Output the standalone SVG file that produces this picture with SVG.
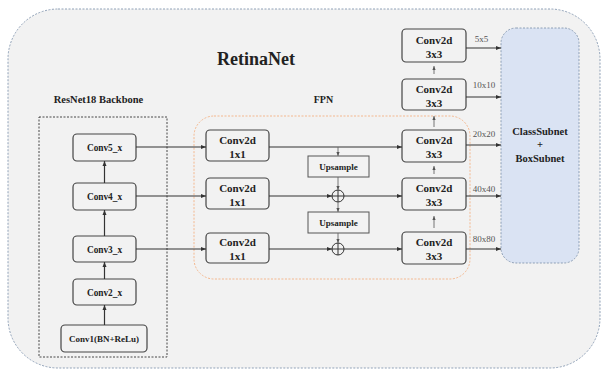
<svg xmlns="http://www.w3.org/2000/svg" width="602" height="370" viewBox="0 0 602 370">
  <defs>
    <marker id="arr" viewBox="0 0 10 10" refX="10" refY="5" markerWidth="5" markerHeight="5" orient="auto" markerUnits="userSpaceOnUse">
      <path d="M0,1 L10,5 L0,9 Z" fill="#333"/>
    </marker>
    <marker id="arrs" viewBox="0 0 10 10" refX="10" refY="5" markerWidth="4" markerHeight="4" orient="auto" markerUnits="userSpaceOnUse">
      <path d="M0,1 L10,5 L0,9 Z" fill="#555"/>
    </marker>
  </defs>
  <style>
    .t { font-family: "Liberation Serif", "Times New Roman", serif; font-weight: bold; fill: #222; text-anchor: middle; }
    .box { fill: #f2f2f2; stroke: #444; stroke-width: 1.2; }
    .ln { fill: none; stroke: #333; stroke-width: 1.2; }
    .thin { fill: none; stroke: #666; stroke-width: 0.9; }
    .sz { font-family: "Liberation Serif", "Times New Roman", serif; font-size: 9px; fill: #555; text-anchor: middle; }
  </style>

  <!-- outer frame -->
  <rect id="frame" x="8" y="9" width="592" height="359" rx="50" fill="#f2f2f2" stroke="#8497b0" stroke-width="0.9" stroke-dasharray="2,1.5"/>
  <text class="t" x="256" y="65" font-size="18">RetinaNet</text>

  <!-- backbone group -->
  <g id="backbone">
    <rect x="39" y="117" width="128" height="240" fill="none" stroke="#333" stroke-width="0.9" stroke-dasharray="2,1.5"/>
    <text class="t" x="98.5" y="103" font-size="10.5">ResNet18 Backbone</text>
  </g>

  <!-- FPN region -->
  <g id="fpn">
    <rect x="194" y="116" width="276" height="163" rx="20" fill="none" stroke="#f4b183" stroke-width="0.9" stroke-dasharray="2,1.5"/>
    <text class="t" x="323.5" y="103" font-size="10">FPN</text>
  </g>

  <g id="conv5"><rect class="box" x="73" y="134" width="63" height="27" rx="4"/><text class="t" x="104.5" y="151" font-size="9.3">Conv5_x</text></g>
  <g id="conv4"><rect class="box" x="73" y="183" width="63" height="27" rx="4"/><text class="t" x="104.5" y="200" font-size="9.3">Conv4_x</text></g>
  <g id="conv3"><rect class="box" x="73" y="236" width="63" height="26" rx="4"/><text class="t" x="104.5" y="252.5" font-size="9.3">Conv3_x</text></g>
  <g id="conv2"><rect class="box" x="73" y="279" width="63" height="26" rx="4"/><text class="t" x="104.5" y="295.5" font-size="9.3">Conv2_x</text></g>
  <g id="conv1"><rect class="box" x="61" y="325" width="86" height="27" rx="4"/><text class="t" x="104" y="342" font-size="9">Conv1(BN+ReLu)</text></g>

  <g id="lat5"><rect class="box" x="206" y="130" width="63" height="31" rx="4"/><text class="t" x="237.5" y="143.5" font-size="11">Conv2d</text><text class="t" x="237.5" y="157.5" font-size="11">1x1</text></g>
  <g id="lat4"><rect class="box" x="206" y="178" width="63" height="31" rx="4"/><text class="t" x="237.5" y="191.5" font-size="11">Conv2d</text><text class="t" x="237.5" y="205.5" font-size="11">1x1</text></g>
  <g id="lat3"><rect class="box" x="206" y="233" width="63" height="30" rx="4"/><text class="t" x="237.5" y="246" font-size="11">Conv2d</text><text class="t" x="237.5" y="260" font-size="11">1x1</text></g>

  <g id="up1"><rect x="308" y="156" width="61" height="21" fill="#f2f2f2" stroke="#555" stroke-width="1"/><text class="t" x="338.5" y="169.5" font-size="9">Upsample</text></g>
  <g id="up2"><rect x="308" y="212" width="61" height="21" fill="#f2f2f2" stroke="#555" stroke-width="1"/><text class="t" x="338.5" y="225.5" font-size="9">Upsample</text></g>

  <g id="add1"><circle cx="338" cy="196" r="6" fill="#f2f2f2" stroke="#333" stroke-width="1"/><path d="M332,196 H344 M338,190 V202" stroke="#333" stroke-width="1"/></g>
  <g id="add2"><circle cx="338" cy="249" r="6" fill="#f2f2f2" stroke="#333" stroke-width="1"/><path d="M332,249 H344 M338,243 V255" stroke="#333" stroke-width="1"/></g>

  <g id="p7"><rect class="box" x="402" y="29" width="64" height="33" rx="4"/><text class="t" x="434" y="43.5" font-size="11">Conv2d</text><text class="t" x="434" y="57.5" font-size="11">3x3</text></g>
  <g id="p6"><rect class="box" x="402" y="79" width="64" height="31" rx="4"/><text class="t" x="434" y="92.5" font-size="11">Conv2d</text><text class="t" x="434" y="106.5" font-size="11">3x3</text></g>
  <g id="p5"><rect class="box" x="402" y="130" width="64" height="32" rx="4"/><text class="t" x="434" y="144" font-size="11">Conv2d</text><text class="t" x="434" y="158" font-size="11">3x3</text></g>
  <g id="p4"><rect class="box" x="402" y="178" width="64" height="32" rx="4"/><text class="t" x="434" y="192" font-size="11">Conv2d</text><text class="t" x="434" y="206" font-size="11">3x3</text></g>
  <g id="p3"><rect class="box" x="402" y="232" width="64" height="32" rx="4"/><text class="t" x="434" y="246" font-size="11">Conv2d</text><text class="t" x="434" y="260" font-size="11">3x3</text></g>

  <g id="heads">
    <rect x="501" y="28" width="78" height="235" rx="15" fill="#dae3f3" stroke="#8497b0" stroke-width="0.9" stroke-dasharray="2,1.5"/>
    <text class="t" x="540" y="135" font-size="10.5">ClassSubnet</text>
    <text class="t" x="540" y="148" font-size="10.5">+</text>
    <text class="t" x="540" y="162" font-size="10.5">BoxSubnet</text>
  </g>

  <g id="connectors">
    <!-- backbone upward flow -->
    <line class="ln" x1="104.5" y1="183" x2="104.5" y2="161" marker-end="url(#arr)"/>
    <line class="ln" x1="104.5" y1="236" x2="104.5" y2="210" marker-end="url(#arr)"/>
    <line class="ln" x1="104.5" y1="279" x2="104.5" y2="262" marker-end="url(#arr)"/>
    <line class="ln" x1="104.5" y1="325" x2="104.5" y2="305" marker-end="url(#arr)"/>
    <!-- backbone to lateral 1x1 -->
    <line class="ln" x1="136" y1="147" x2="206" y2="147" marker-end="url(#arr)"/>
    <line class="ln" x1="136" y1="196" x2="206" y2="196" marker-end="url(#arr)"/>
    <line class="ln" x1="136" y1="249" x2="206" y2="249" marker-end="url(#arr)"/>
    <!-- lateral to 3x3 -->
    <line class="ln" x1="269" y1="147" x2="402" y2="147" marker-end="url(#arr)"/>
    <line class="ln" x1="269" y1="196" x2="332" y2="196" marker-end="url(#arr)"/>
    <line class="ln" x1="344" y1="196" x2="402" y2="196" marker-end="url(#arr)"/>
    <line class="ln" x1="269" y1="249" x2="332" y2="249" marker-end="url(#arr)"/>
    <line class="ln" x1="344" y1="249" x2="402" y2="249" marker-end="url(#arr)"/>
    <!-- top-down path -->
    <line class="thin" x1="338" y1="147" x2="338" y2="156" marker-end="url(#arrs)"/>
    <line class="thin" x1="338" y1="177" x2="338" y2="190" marker-end="url(#arrs)"/>
    <line class="thin" x1="338" y1="202" x2="338" y2="212" marker-end="url(#arrs)"/>
    <line class="thin" x1="338" y1="233" x2="338" y2="243" marker-end="url(#arrs)"/>
    <!-- 3x3 chain upward -->
    <line class="thin" x1="434" y1="228" x2="434" y2="216" marker-end="url(#arrs)"/>
    <line class="thin" x1="434" y1="174" x2="434" y2="166" marker-end="url(#arrs)"/>
    <line class="thin" x1="434" y1="127" x2="434" y2="116" marker-end="url(#arrs)"/>
    <line class="thin" x1="434" y1="74" x2="434" y2="66" marker-end="url(#arrs)"/>
    <!-- outputs to heads -->
    <line class="ln" x1="466" y1="48" x2="501" y2="48" marker-end="url(#arr)"/>
    <line class="ln" x1="466" y1="97" x2="501" y2="97" marker-end="url(#arr)"/>
    <line class="ln" x1="466" y1="145" x2="501" y2="145" marker-end="url(#arr)"/>
    <line class="ln" x1="466" y1="196" x2="501" y2="196" marker-end="url(#arr)"/>
    <line class="ln" x1="466" y1="249" x2="501" y2="249" marker-end="url(#arr)"/>
    <text class="sz" x="481.5" y="42">5x5</text>
    <text class="sz" x="484" y="88">10x10</text>
    <text class="sz" x="484" y="137">20x20</text>
    <text class="sz" x="484" y="192">40x40</text>
    <text class="sz" x="484" y="242">80x80</text>
  </g>
</svg>
